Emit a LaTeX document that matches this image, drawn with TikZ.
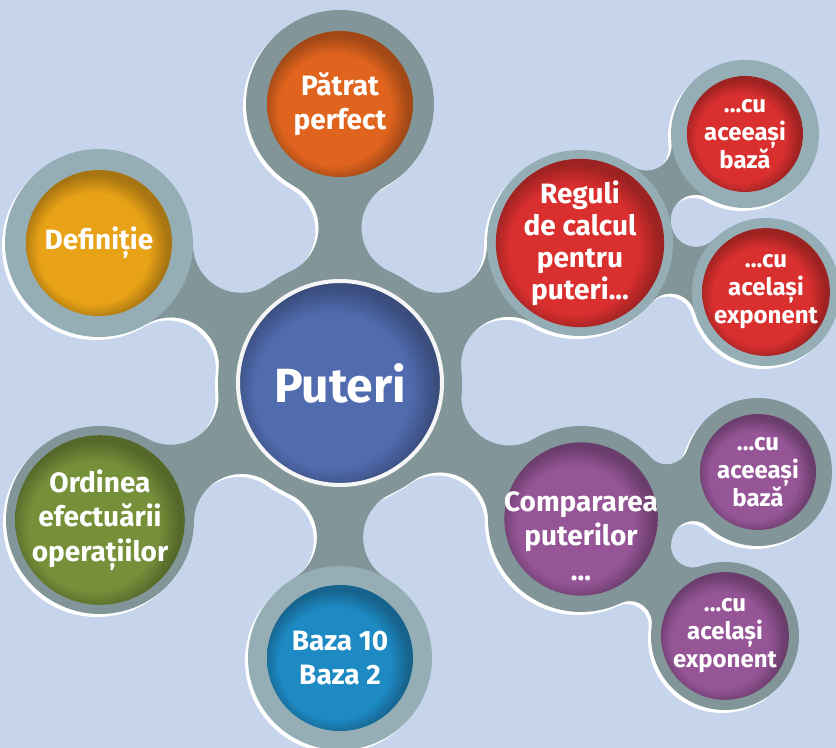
\documentclass[tikz,border=0pt]{standalone}
\usepackage{fontspec}
\setmainfont{Fira Sans}
\usetikzlibrary{calc}

\definecolor{bgblue}{HTML}{C6D4EC}
\definecolor{bridgegrey}{HTML}{829598}
\definecolor{ringlight}{HTML}{95AEB5}
\definecolor{ringdark}{HTML}{829598}
\definecolor{hubblue}{HTML}{506BAE}
\definecolor{squareorange}{HTML}{E0641E}
\definecolor{defyellow}{HTML}{E8A217}
\definecolor{ordergreen}{HTML}{76903A}
\definecolor{baseblue}{HTML}{1E8AC4}
\definecolor{rulered}{HTML}{DA2F2F}
\definecolor{compviolet}{HTML}{955597}

\newcommand\px{0.75pt}
\newcommand\hubfont{\bfseries\fontsize{36}{40}\selectfont}
\newcommand\satfont{\bfseries\fontsize{21}{26}\selectfont}
\newcommand\kidfont{\bfseries\fontsize{18}{21}\selectfont}

% disc with a darker rim towards the upper right
\pgfdeclareradialshading[discin,discout]{discshade}{\pgfpoint{-3bp}{-3bp}}%
  {color(0bp)=(discin);color(19bp)=(discin);color(25bp)=(discout);color(50bp)=(discout)}

% grey neck between two rings: #1,#2 centres, #3,#4 ring radii, #5 fillet radius
\newcommand\bridge[5]{%
  \begin{scope}[even odd rule]
    \path let \p1=(#1), \p2=(#2),
      \n1={veclen(\x2-\x1,\y2-\y1)},
      \n2={(#3+#5)*\px}, \n3={(#4+#5)*\px},
      \n4={(\n2-\n3)/(2*\n1)*(\n2+\n3)+\n1/2},
      \n5={acos(\n4/\n2)}
    in coordinate (fa) at ($(#1)!\n2!\n5:(#2)$)
       coordinate (fb) at ($(#1)!\n2!-\n5:(#2)$);
    \path coordinate (ta) at ($(#1)!#3*\px!(fa)$)
          coordinate (sa) at ($(#2)!#4*\px!(fa)$)
          coordinate (tb) at ($(#1)!#3*\px!(fb)$)
          coordinate (sb) at ($(#2)!#4*\px!(fb)$);
    \clip (-20,-20) rectangle (860,770)
      (fa) circle[radius=#5*\px] (fb) circle[radius=#5*\px];
    \fill[bridgegrey] (#1) -- (ta) -- (sa) -- (#2) -- (sb) -- (tb) -- cycle;
  \end{scope}}

% all grey parts: necks first, rings on top
\newcommand\skeleton{%
  \bridge{c-hub}{c-square}{122}{94}{48}
  \bridge{c-hub}{c-def}{122}{94}{48}
  \bridge{c-hub}{c-order}{122}{94}{48}
  \bridge{c-hub}{c-base}{122}{92}{48}
  \bridge{c-hub}{c-rules}{122}{93}{48}
  \bridge{c-hub}{c-comp}{122}{93}{48}
  \bridge{c-rules}{c-rules-base}{93}{74}{25}
  \bridge{c-rules}{c-rules-exp}{93}{74}{25}
  \bridge{c-comp}{c-comp-base}{93}{74}{22}
  \bridge{c-comp}{c-comp-exp}{93}{74}{22}
  \foreach \c/\r/\col in {c-hub/122/ringdark, c-square/94/ringdark, c-def/94/ringlight,
      c-order/94/ringdark, c-base/92/ringlight, c-rules/93/ringlight,
      c-rules-base/74/ringlight, c-rules-exp/74/ringlight, c-comp/93/ringdark,
      c-comp-base/74/ringdark, c-comp-exp/74/ringdark}
    \fill[\col] (\c) circle[radius=\r*\px];}

\begin{document}
\begin{tikzpicture}[x=0.75pt, y=-0.75pt,
    disc/.style={circle, inner sep=0pt, text=white, align=center, shade, shading=discshade,
      /utils/exec={\colorlet{discin}{#1}\colorlet{discout}{#1!72!black}}},
    bigdisc/.style={disc=#1, minimum size=146*\px, font=\satfont},
    smalldisc/.style={disc=#1, minimum size=116*\px, font=\kidfont}]
  \useasboundingbox (0,0) rectangle (836,748);
  \fill[bgblue] (0,0) rectangle (836,748);

  % centres
  \coordinate (c-hub) at (340,383);
  \coordinate (c-square) at (340,104);
  \coordinate (c-def) at (99,243);
  \coordinate (c-order) at (100,520);
  \coordinate (c-base) at (340,658);
  \coordinate (c-rules) at (580,243);
  \coordinate (c-rules-base) at (745,134);
  \coordinate (c-rules-exp) at (766,292);
  \coordinate (c-comp) at (581,519);
  \coordinate (c-comp-base) at (758,472);
  \coordinate (c-comp-exp) at (725,636);

  % white rim, then the grey frame
  \begin{scope}[transform canvas={xshift=-2.25pt, yshift=-2.25pt}]
    \colorlet{bridgegrey}{white}\colorlet{ringlight}{white}\colorlet{ringdark}{white}
    \skeleton
  \end{scope}
  \skeleton

  % discs
  \node[disc=hubblue, minimum size=204*\px, draw=white!92!gray, line width=3pt,
    font=\hubfont] (hub) at (c-hub) {Puteri};
  \node[bigdisc=squareorange] (square) at (c-square) {Pătrat\\perfect};
  \node[bigdisc=defyellow] (def) at (c-def) {Definiție};
  \node[bigdisc=ordergreen] (order) at (c-order) {Ordinea\\efectuării\\operațiilor};
  \node[bigdisc=baseblue] (base) at (c-base) {Baza 10\\Baza 2};
  \node[bigdisc=rulered, font=\bfseries\fontsize{21}{24}\selectfont] (rules) at (c-rules)
    {Reguli\\de calcul\\pentru\\puteri...};
  \node[smalldisc=rulered] (rules-base) at (c-rules-base) {...cu\\aceeași\\bază};
  \node[smalldisc=rulered] (rules-exp) at (c-rules-exp) {...cu\\același\\exponent};
  \node[bigdisc=compviolet] (comp) at (c-comp)
    {\raisebox{-20pt}[0pt][0pt]{\begin{tabular}{@{}c@{}}Compararea\\puterilor\\...\end{tabular}}};
  \node[smalldisc=compviolet] (comp-base) at (c-comp-base) {...cu\\aceeași\\bază};
  \node[smalldisc=compviolet] (comp-exp) at (c-comp-exp) {...cu\\același\\exponent};
\end{tikzpicture}
\end{document}
